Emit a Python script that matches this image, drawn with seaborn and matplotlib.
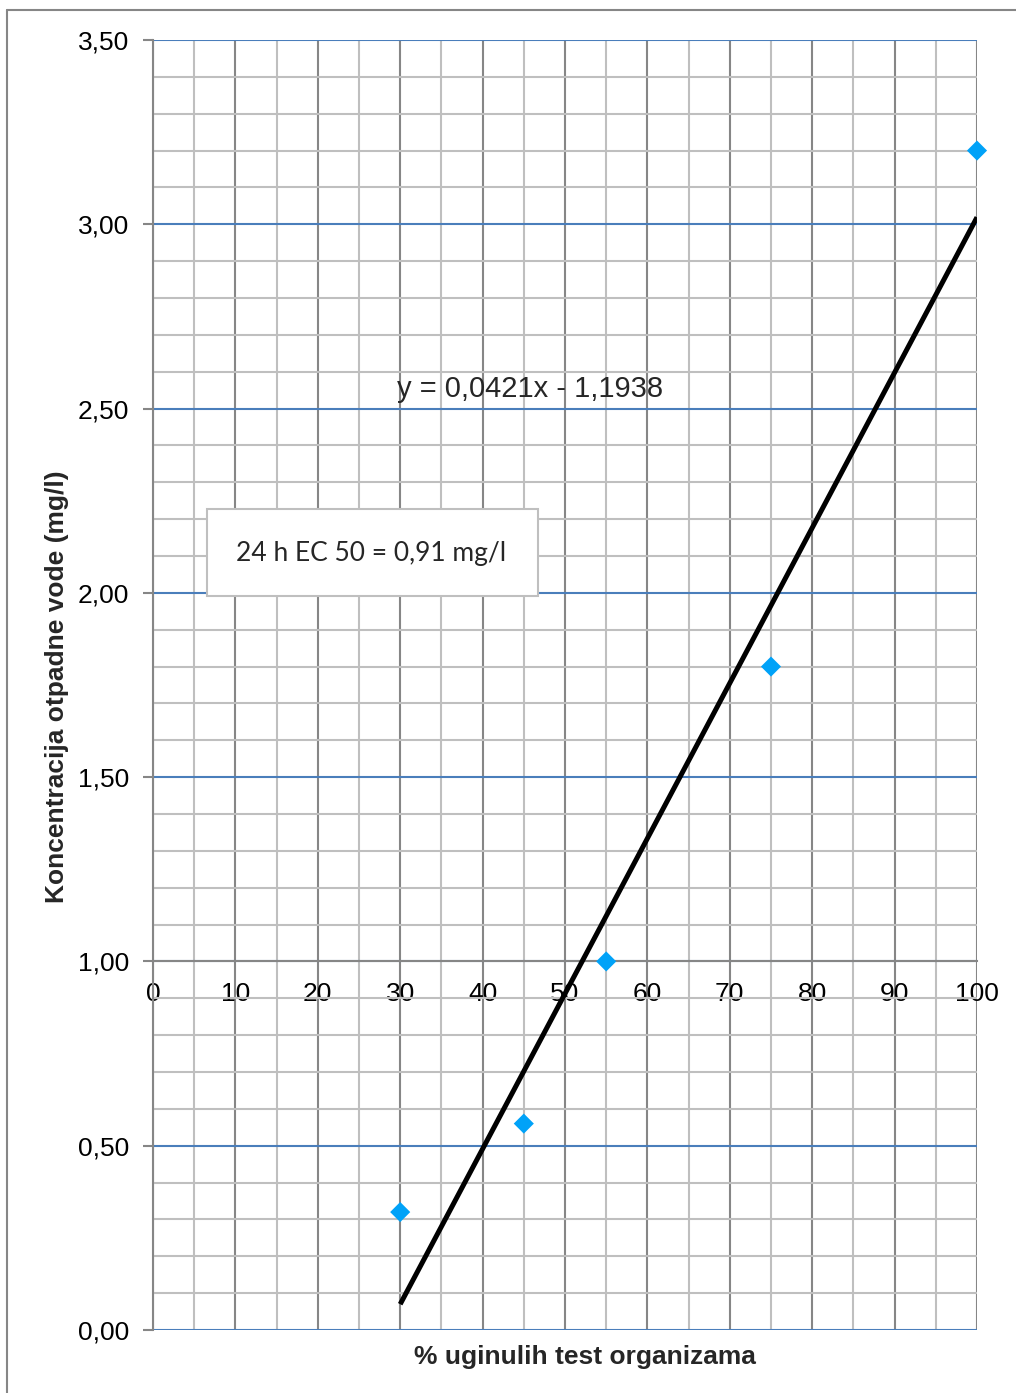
'''EC50 regression chart'''

import matplotlib
matplotlib.use('Agg')
import matplotlib.pyplot as plt
from matplotlib.lines import Line2D
from matplotlib.patches import Rectangle
from matplotlib.ticker import MultipleLocator, FuncFormatter
import seaborn as sns
import numpy as np
import pandas as pd

# data
mortality = [30, 45, 55, 75, 100]
concentration = [0.32, 0.56, 1.00, 1.80, 3.20]
y_ticks = [0.0, 0.5, 1.0, 1.5, 2.0, 2.5, 3.0, 3.5]
x_ticks = [0, 10, 20, 30, 40, 50, 60, 70, 80, 90, 100]
equation = 'y = 0,0421x - 1,1938'
ec50_note = '24 h EC 50 = 0,91 mg/l'
x_label = '% uginulih test organizama'
y_label = 'Koncentracija otpadne vode (mg/l)'

sns.set_style('white')
plt.rcParams['font.family'] = ['Liberation Sans', 'DejaVu Sans']

df = pd.DataFrame({'x': mortality, 'y': concentration})

fig = plt.figure(figsize=(10.16, 13.93), dpi=100)
ax = fig.add_axes([153 / 1016, 1 - 1330 / 1393, 824 / 1016, 1290 / 1393])

ax.set_xlim(0, 100)
ax.set_ylim(0, 3.5)

# grid: minor grey, major vertical darker grey, major horizontal blue
ax.xaxis.set_major_locator(MultipleLocator(10))
ax.xaxis.set_minor_locator(MultipleLocator(5))
ax.yaxis.set_major_locator(MultipleLocator(0.5))
ax.yaxis.set_minor_locator(MultipleLocator(0.1))
ax.grid(which='minor', axis='both', color='#bfbfbf', lw=1.5, zorder=0)
ax.grid(which='major', axis='x', color='#868686', lw=1.5, zorder=0)
ax.grid(which='major', axis='y', color='#4a7ebb', lw=1.5, zorder=0)
ax.set_axisbelow(True)

# trendline from linear regression
slope, intercept = np.polyfit(df['x'], df['y'], 1)
xs = np.array([min(mortality), max(mortality)])
ax.plot(xs, slope * xs + intercept, color='black', lw=3.6,
        solid_capstyle='butt', zorder=3)

sns.scatterplot(data=df, x='x', y='y', marker='D', s=105, color='#00a2f8',
                edgecolor='none', ax=ax, zorder=4, clip_on=False)

# x axis crosses at y = 1.0
for s in ['top', 'right']:
    ax.spines[s].set_visible(False)
ax.spines['bottom'].set_position(('data', 1.0))
ax.spines['bottom'].set_color('#868686')
ax.spines['bottom'].set_linewidth(1.5)
ax.spines['left'].set_color('#868686')
ax.spines['left'].set_linewidth(1.5)
ax.spines['bottom'].set_zorder(2)

ax.set_xticks(x_ticks)
ax.set_yticks(y_ticks)
ax.yaxis.set_major_formatter(FuncFormatter(lambda v, p: f'{v:.2f}'.replace('.', ',')))
ax.tick_params(axis='x', which='both', length=0, pad=15, labelsize=19, labelcolor='black')
ax.tick_params(axis='y', which='major', length=7, width=1.5, color='#868686',
               pad=10, labelsize=19, labelcolor='black', left=True)
ax.tick_params(axis='y', which='minor', length=0)
ax.set_xlabel('')
ax.set_ylabel('')

ax.text(29.6, 2.553, equation, fontsize=21, family=['Liberation Sans', 'DejaVu Sans'],
        va='center', ha='left', zorder=5)

# EC50 note box
box = Rectangle((207 / 1016, 1 - 596 / 1393), 331 / 1016, 87 / 1393,
                transform=fig.transFigure, facecolor='white',
                edgecolor='#bfbfbf', lw=1.5, zorder=6)
ax.add_patch(box)
ax.text((238 + 505) / 2 / 1016, 1 - 553 / 1393, ec50_note, transform=fig.transFigure,
        fontsize=19, family=['Lato', 'DejaVu Sans'], ha='center', va='center',
        color='#262626', zorder=7)

fig.text(585 / 1016, 1 - 1357 / 1393, x_label, fontsize=19, fontweight='bold',
         ha='center', va='center')
fig.text(57 / 1016, 1 - 687 / 1393, y_label, fontsize=19, fontweight='bold',
         ha='center', va='center', rotation=90)

# outer chart frame
fig.add_artist(Line2D([7 / 1016, 7 / 1016], [0, 1 - 10 / 1393],
                      transform=fig.transFigure, color='#868686', lw=1.5))
fig.add_artist(Line2D([7 / 1016, 1], [1 - 10 / 1393, 1 - 10 / 1393],
                      transform=fig.transFigure, color='#868686', lw=1.5))

fig.savefig('out.png', dpi=100)
